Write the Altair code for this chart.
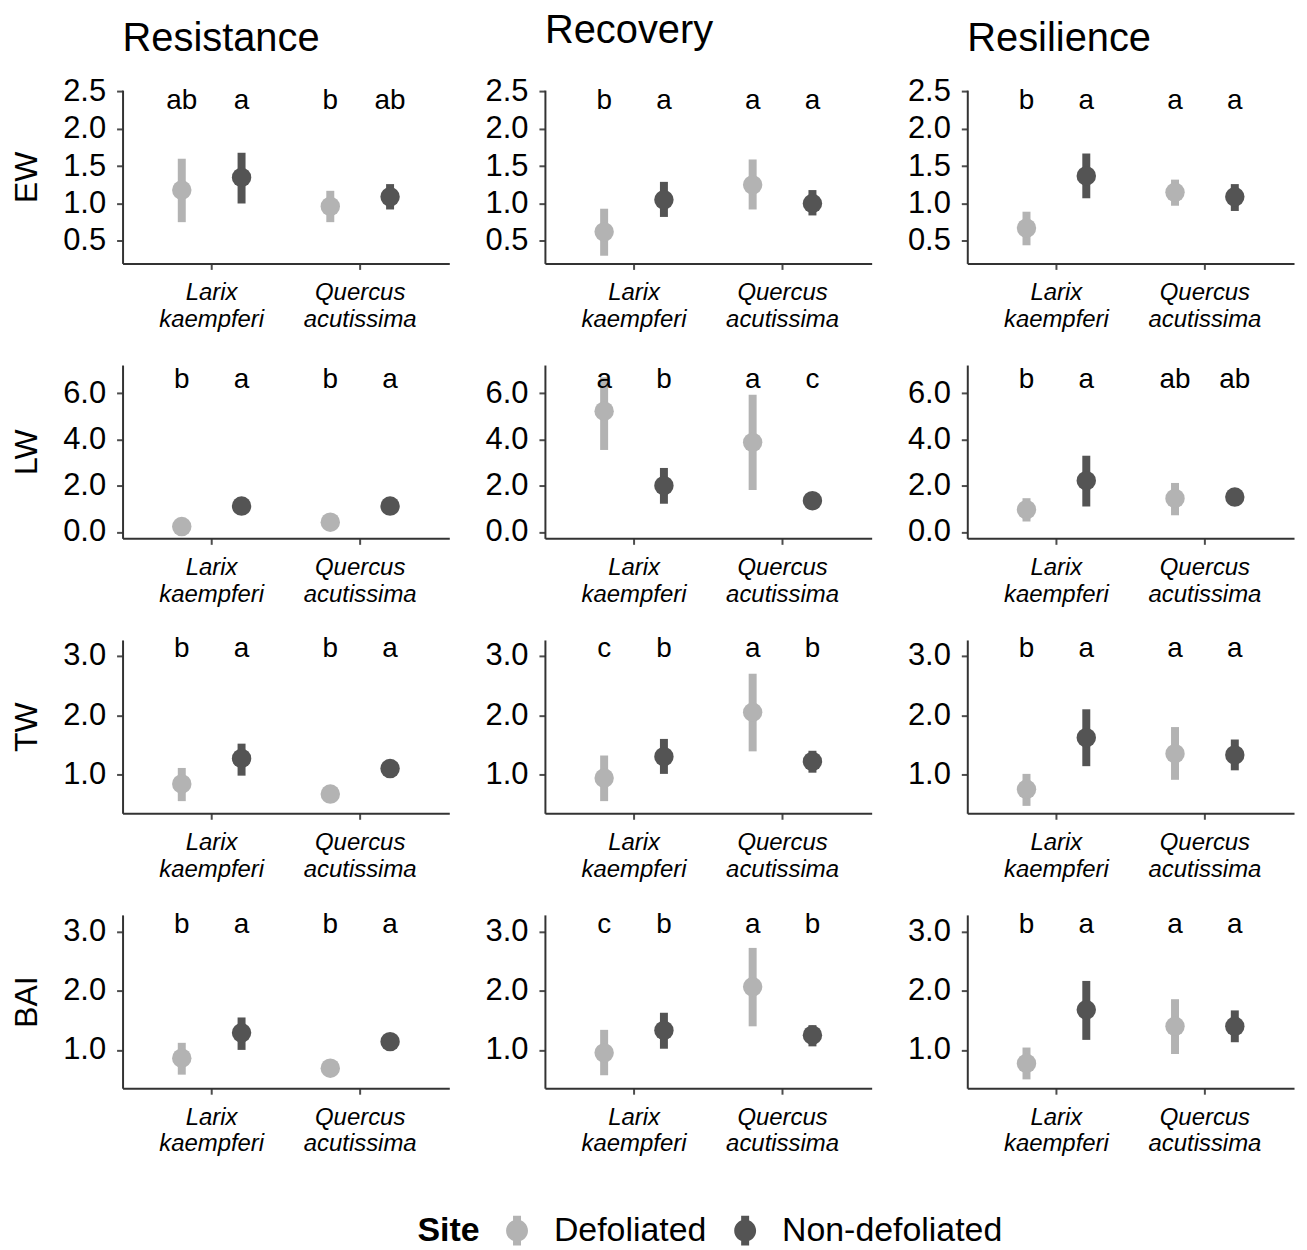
import altair as alt
import pandas as pd

F = "Liberation Sans"

species = ["Larix kaempferi", "Quercus acutissima"]
sites = ["Defoliated", "Non-defoliated"]
components = ["Resistance", "Recovery", "Resilience"]
indices = ["EW", "LW", "TW", "BAI"]
site_colors = ["#b3b3b3", "#545454"]

# order inside every panel: Larix-Def, Larix-Non, Quercus-Def, Quercus-Non
# one inner list per component (Resistance, Recovery, Resilience)
ew_mean = [[1.18, 1.35, 0.96, 1.09], [0.62, 1.05, 1.25, 1.00], [0.67, 1.37, 1.15, 1.09]]
ew_low = [[0.75, 1.00, 0.75, 0.92], [0.30, 0.82, 0.92, 0.84], [0.44, 1.07, 0.97, 0.90]]
ew_high = [[1.60, 1.68, 1.17, 1.26], [0.93, 1.29, 1.59, 1.18], [0.89, 1.67, 1.32, 1.26]]
ew_letters = [["ab", "a", "b", "ab"], ["b", "a", "a", "a"], ["b", "a", "a", "a"]]

lw_mean = [[0.23, 1.12, 0.42, 1.12], [5.23, 2.00, 3.88, 1.35], [0.96, 2.22, 1.45, 1.51]]
lw_low = [[0.13, 1.02, 0.32, 1.02], [3.55, 1.22, 1.81, 1.15], [0.45, 1.10, 0.72, 1.31]]
lw_high = [[0.33, 1.22, 0.52, 1.22], [6.70, 2.77, 5.94, 1.55], [1.46, 3.30, 2.12, 1.71]]
lw_letters = [["b", "a", "b", "a"], ["a", "b", "a", "c"], ["b", "a", "ab", "ab"]]

tw_mean = [[0.84, 1.27, 0.67, 1.10], [0.94, 1.30, 2.05, 1.22], [0.75, 1.62, 1.35, 1.33]]
tw_low = [[0.55, 0.98, 0.60, 1.03], [0.55, 1.01, 1.39, 1.03], [0.47, 1.14, 0.91, 1.07]]
tw_high = [[1.11, 1.52, 0.74, 1.17], [1.32, 1.60, 2.70, 1.40], [1.01, 2.10, 1.80, 1.59]]
tw_letters = [["b", "a", "b", "a"], ["c", "b", "a", "b"], ["b", "a", "a", "a"]]

bai_mean = [[0.86, 1.29, 0.69, 1.14], [0.95, 1.33, 2.07, 1.25], [0.77, 1.68, 1.40, 1.40]]
bai_low = [[0.58, 1.00, 0.62, 1.07], [0.57, 1.02, 1.40, 1.06], [0.50, 1.17, 0.93, 1.13]]
bai_high = [[1.12, 1.55, 0.76, 1.21], [1.34, 1.63, 2.73, 1.42], [1.04, 2.17, 1.86, 1.67]]
bai_letters = [["b", "a", "b", "a"], ["c", "b", "a", "b"], ["b", "a", "a", "a"]]

y_ticks = [[0.5, 1.0, 1.5, 2.0, 2.5], [0.0, 2.0, 4.0, 6.0], [1.0, 2.0, 3.0], [1.0, 2.0, 3.0]]
y_domains = [[0.197, 2.52], [-0.28, 7.23], [0.345, 3.27], [0.35, 3.29]]

# layout (pixels)
letter_px = [11, 15, 9, 10]
title_offsets = [17, 25, 17]

all_mean = [ew_mean, lw_mean, tw_mean, bai_mean]
all_low = [ew_low, lw_low, tw_low, bai_low]
all_high = [ew_high, lw_high, tw_high, bai_high]
all_letters = [ew_letters, lw_letters, tw_letters, bai_letters]

sym = ("M-0.267,-1H0.267V1H-0.267Z "
       "M0.733,0A0.733,0.733,0,1,1,-0.733,0A0.733,0.733,0,1,1,0.733,0Z")

legend = alt.Legend(
    title="Site", orient="none", legendX=296, legendY=1128,
    direction="horizontal", titleOrient="left",
    symbolType=sym, symbolSize=900, symbolStrokeWidth=0, symbolOpacity=1,
    labelFontSize=34, titleFontSize=34, titleFontWeight="bold",
    labelFont=F, titleFont=F, labelColor="black", titleColor="black",
    titlePadding=20, labelOffset=20, columnPadding=21, labelLimit=600,
)

cscale = alt.Scale(domain=sites, range=site_colors)
xscale = alt.Scale(domain=species, paddingInner=0, paddingOuter=0.1)
offscale = alt.Scale(domain=sites, paddingInner=0, paddingOuter=0.242)
xaxis = alt.Axis(
    title=None, labelAngle=0, labelExpr="split(datum.label, ' ')",
    labelFontStyle="italic", labelFontSize=24, labelLineHeight=27,
    labelPadding=11, tickSize=6,
)


def panel(r, c):
    sp, st = [], []
    for s in species:
        for t in sites:
            sp.append(s)
            st.append(t)
    df = pd.DataFrame({
        "species": sp,
        "site": st,
        "mean": all_mean[r][c],
        "low": all_low[r][c],
        "high": all_high[r][c],
        "letter": all_letters[r][c],
    })
    yscale = alt.Scale(domain=y_domains[r], nice=False, zero=False)
    yaxis = alt.Axis(
        values=y_ticks[r], format=".1f", tickSize=6, labelPadding=11,
        labelFontSize=31, minExtent=60, maxExtent=60,
        title=indices[r] if c == 0 else None,
        titleFontSize=32, titleFontWeight="normal", titlePadding=19,
    )
    base = alt.Chart(df).encode(
        x=alt.X("species:N", scale=xscale, axis=xaxis),
        xOffset=alt.XOffset("site:N", scale=offscale),
    )
    rules = base.mark_rule(strokeWidth=8, strokeCap="butt").encode(
        y=alt.Y("low:Q", scale=yscale, axis=yaxis),
        y2="high:Q",
        color=alt.Color("site:N", scale=cscale, legend=legend),
    )
    pts = base.mark_circle(size=380, opacity=1).encode(
        y=alt.Y("mean:Q", scale=yscale, axis=yaxis),
        color=alt.Color("site:N", scale=cscale, legend=legend),
    )
    txt = base.mark_text(fontSize=28, baseline="middle", align="center",
                         color="black", font=F).encode(
        y=alt.value(letter_px[r]),
        text="letter:N",
    )
    ch = alt.layer(rules, pts, txt).properties(width=328, height=174)
    if r == 0:
        ch = ch.properties(title=alt.TitleParams(
            text=components[c], anchor="start", frame="group", fontSize=40,
            font=F, fontWeight="normal", color="black",
            offset=title_offsets[c]))
    return ch


panels = [panel(r, c) for r in range(4) for c in range(3)]

chart = alt.concat(*panels, columns=3, bounds="flush",
                   spacing={"row": 102, "column": 96}).properties(
    padding={"left": 3, "top": 0, "right": 5, "bottom": 0}
).resolve_scale(y="independent").configure_view(stroke=None).configure_axis(
    grid=False, domainColor="#333333", domainWidth=2, tickColor="#4d4d4d",
    tickWidth=2, labelColor="black", titleColor="black", labelFont=F,
    titleFont=F,
).configure_text(font=F)

chart.save("out.html", embed_options={"renderer": "svg", "actions": False})
